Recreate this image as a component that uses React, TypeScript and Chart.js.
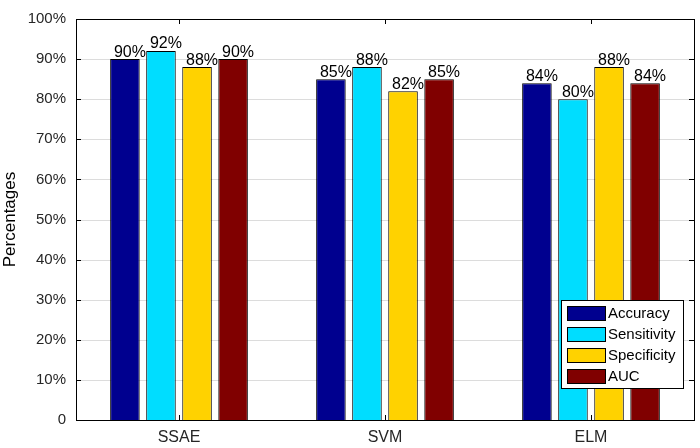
import React, { useEffect, useRef } from "react";
import { Chart, registerables } from "chart.js";

Chart.register(...registerables);

const categories = ["SSAE", "SVM", "ELM"];
const seriesNames = ["Accuracy", "Sensitivity", "Specificity", "AUC"];
const accuracy = [90, 85, 84];
const sensitivity = [92, 88, 80];
const specificity = [88, 82, 88];
const auc = [90, 85, 84];
const colors = ["#00008F", "#00DDFF", "#FFD200", "#800000"];
const yTicks = [0, 10, 20, 30, 40, 50, 60, 70, 80, 90, 100];

const FONT = "'Liberation Sans', Arial, sans-serif";

const framePlugin = {
  id: "frame",
  beforeDatasetsDraw(chart: any) {
    const { ctx, chartArea: a } = chart;
    const y = chart.scales.y;
    ctx.save();
    ctx.strokeStyle = "#dcdcdc";
    ctx.lineWidth = 1;
    for (const t of yTicks) {
      if (t === 0 || t === 100) continue;
      const py = Math.round(y.getPixelForValue(t)) + 0.5;
      ctx.beginPath();
      ctx.moveTo(a.left, py);
      ctx.lineTo(a.right, py);
      ctx.stroke();
    }
    ctx.restore();
  },
  afterDatasetsDraw(chart: any) {
    const { ctx, chartArea: a } = chart;
    const y = chart.scales.y;
    const x = chart.scales.x;
    ctx.save();
    // data labels
    ctx.font = `16px ${FONT}`;
    ctx.fillStyle = "#000";
    ctx.textAlign = "center";
    ctx.textBaseline = "bottom";
    chart.data.datasets.forEach((ds: any, di: number) => {
      const meta = chart.getDatasetMeta(di);
      meta.data.forEach((el: any, i: number) => {
        ctx.fillText(ds.data[i] + "%", el.x + 5, el.y + 1);
      });
    });
    // frame
    ctx.strokeStyle = "#000";
    ctx.lineWidth = 1;
    ctx.strokeRect(Math.round(a.left) + 0.5, Math.round(a.top) + 0.5, Math.round(a.right - a.left), Math.round(a.bottom - a.top));
    // inward ticks
    ctx.beginPath();
    for (const t of yTicks) {
      const py = Math.round(y.getPixelForValue(t)) + 0.5;
      ctx.moveTo(a.left, py);
      ctx.lineTo(a.left + 5, py);
      ctx.moveTo(a.right, py);
      ctx.lineTo(a.right - 5, py);
    }
    categories.forEach((_, i) => {
      const px = Math.round(x.getPixelForValue(i)) + 0.5;
      ctx.moveTo(px, a.bottom);
      ctx.lineTo(px, a.bottom - 5);
      ctx.moveTo(px, a.top);
      ctx.lineTo(px, a.top + 5);
    });
    ctx.stroke();
    // legend
    const lx = 561, ly = 300, lw = 122, lh = 88;
    ctx.fillStyle = "#fff";
    ctx.fillRect(lx, ly, lw, lh);
    ctx.strokeRect(lx + 0.5, ly + 0.5, lw, lh);
    ctx.font = `15px ${FONT}`;
    ctx.textAlign = "left";
    ctx.textBaseline = "middle";
    chart.data.datasets.forEach((ds: any, di: number) => {
      const cy = ly + 13 + di * 21;
      ctx.fillStyle = ds.backgroundColor;
      ctx.fillRect(lx + 6, cy - 7, 38, 14);
      ctx.strokeStyle = "#000";
      ctx.strokeRect(lx + 6.5, cy - 6.5, 38, 14);
      ctx.fillStyle = "#000";
      ctx.fillText(ds.label, lx + 47, cy + 1);
    });
    ctx.restore();
  },
};

export default function App() {
  const ref = useRef<HTMLCanvasElement>(null);
  useEffect(() => {
    const series = [accuracy, sensitivity, specificity, auc];
    const chart = new Chart(ref.current!, {
      type: "bar",
      data: {
        labels: categories,
        datasets: series.map((d, i) => ({
          label: seriesNames[i],
          data: d,
          backgroundColor: colors[i],
          borderColor: "#000",
          borderWidth: 1,
          barPercentage: 0.82,
          categoryPercentage: 0.7,
        })),
      },
      options: {
        responsive: false,
        animation: false,
        layout: { padding: { top: 7, right: 6, left: 0, bottom: 0 } },
        plugins: { legend: { display: false }, tooltip: { enabled: false } },
        scales: {
          x: {
            grid: { display: false, drawTicks: false },
            border: { display: false },
            ticks: { color: "#262626", font: { family: FONT, size: 16 }, padding: 8 },
            afterFit(s: any) { s.height = 28; },
          },
          y: {
            min: 0,
            max: 100,
            grid: { display: false, drawTicks: false },
            border: { display: false },
            ticks: {
              stepSize: 10,
              color: "#262626",
              font: { family: FONT, size: 15 },
              padding: 10,
              callback: (v: any) => (v === 0 ? "0" : v + "%"),
            },
            title: { display: true, text: "Percentages", color: "#000", font: { family: FONT, size: 17 }, padding: { top: 0, bottom: 0 } },
            afterFit(s: any) { s.width = 76; },
          },
        },
      },
      plugins: [framePlugin],
    });
    return () => chart.destroy();
  }, []);
  return (
    <div style={{ position: "absolute", left: 0, top: 0, width: 700, height: 448, background: "#fff" }}>
      <canvas ref={ref} width={700} height={448} />
    </div>
  );
}
